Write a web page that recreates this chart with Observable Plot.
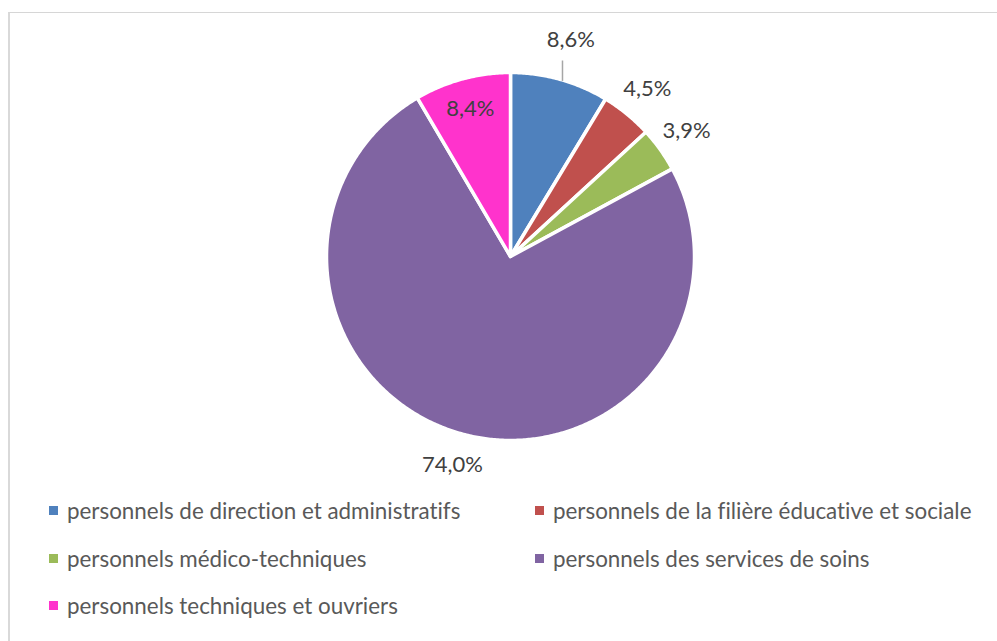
<!DOCTYPE html>
<html><head><meta charset="utf-8">
<script src="https://cdn.jsdelivr.net/npm/d3@7"></script>
<script src="https://cdn.jsdelivr.net/npm/@observablehq/plot@0.6"></script>
<style>
html,body{margin:0;padding:0;background:#fff;}
body{width:997px;height:641px;position:relative;overflow:hidden;font-family:Lato,"Open Sans",sans-serif;font-variant-ligatures:none;}
#frame{position:absolute;left:8px;top:12px;width:989px;height:629px;border-top:1px solid #d6d6d6;border-left:2px solid #d9d9d9;box-sizing:border-box;}
#chart{position:absolute;left:0;top:0;}
#chart svg text{font-variant-ligatures:none;}
#legend{position:absolute;left:49px;top:487px;display:grid;grid-template-columns:486px auto;grid-auto-rows:47.5px;font-size:22.4px;color:#595959;}
.item{display:flex;align-items:center;white-space:nowrap;}
.sw{width:9px;height:9px;margin-right:9px;flex:none;}
</style></head>
<body>
<div id="frame"></div>
<div id="chart"></div>
<div id="legend"></div>
<script>
const categories = [
  "personnels de direction et administratifs",
  "personnels de la filière éducative et sociale",
  "personnels médico-techniques",
  "personnels des services de soins",
  "personnels techniques et ouvriers"
];
const shares = [8.6, 4.5, 3.9, 74.0, 8.4];
const valueLabels = ["8,6%", "4,5%", "3,9%", "74,0%", "8,4%"];
const colors = ["#4f81bd", "#c0504d", "#9bbb59", "#8064a2", "#ff33cc"];

const total = d3.sum(shares);
let cum = 0;
const slices = categories.map((c, i) => {
  const a0 = cum / total; cum += shares[i];
  return {category: c, a0, a1: cum / total, label: valueLabels[i]};
});
const pt = t => [Math.sin(2 * Math.PI * t), Math.cos(2 * Math.PI * t)];

// polygon outline of each slice (center -> arc -> center)
const outline = [];
for (const s of slices) {
  outline.push({category: s.category, x: 0, y: 0});
  const n = Math.max(2, Math.ceil((s.a1 - s.a0) * 720));
  for (let k = 0; k <= n; k++) {
    const [x, y] = pt(s.a0 + (s.a1 - s.a0) * k / n);
    outline.push({category: s.category, x, y});
  }
  outline.push({category: s.category, x: 0, y: 0});
}

const labelRadius = {
  "personnels de direction et administratifs": 1.22,
  "personnels techniques et ouvriers": 0.83
};
const labelPts = slices.map(s => {
  const r = labelRadius[s.category] ?? 1.175;
  const [x, y] = pt((s.a0 + s.a1) / 2);
  return {category: s.category, label: s.label, x: x * r, y: y * r, r};
});
const leaders = labelPts.filter(d => d.r > 1.2).map(d => {
  const x = d.x - 0.045;
  return {x1: x, y1: d.y - 0.11, x2: x, y2: Math.sqrt(1 - x * x) - 0.005};
});

const R = 184, cx = 510, cy = 256;
const chart = Plot.plot({
  width: 997, height: 485,
  margin: 0,
  x: {domain: [-1, 1], range: [cx - R, cx + R], axis: null},
  y: {domain: [-1, 1], range: [cy + R, cy - R], axis: null},
  color: {domain: categories, range: colors},
  style: {background: "transparent", fontFamily: "Lato, 'Open Sans', sans-serif"},
  marks: [
    Plot.line(outline, {x: "x", y: "y", z: "category", fill: "category", stroke: "white", strokeWidth: 3.5, strokeLinejoin: "round", curve: "linear"}),
    Plot.link(leaders, {x1: "x1", y1: "y1", x2: "x2", y2: "y2", stroke: "#a6a6a6", strokeWidth: 1.5}),
    Plot.text(labelPts, {x: "x", y: "y", text: "label", fill: "#404040", fontSize: 22})
  ]
});
document.getElementById("chart").appendChild(chart);

const legend = document.getElementById("legend");
categories.forEach((c, i) => {
  const it = document.createElement("div"); it.className = "item";
  const sw = document.createElement("span"); sw.className = "sw"; sw.style.background = colors[i];
  const tx = document.createElement("span"); tx.textContent = c;
  it.appendChild(sw); it.appendChild(tx); legend.appendChild(it);
});
</script>
</body></html>
